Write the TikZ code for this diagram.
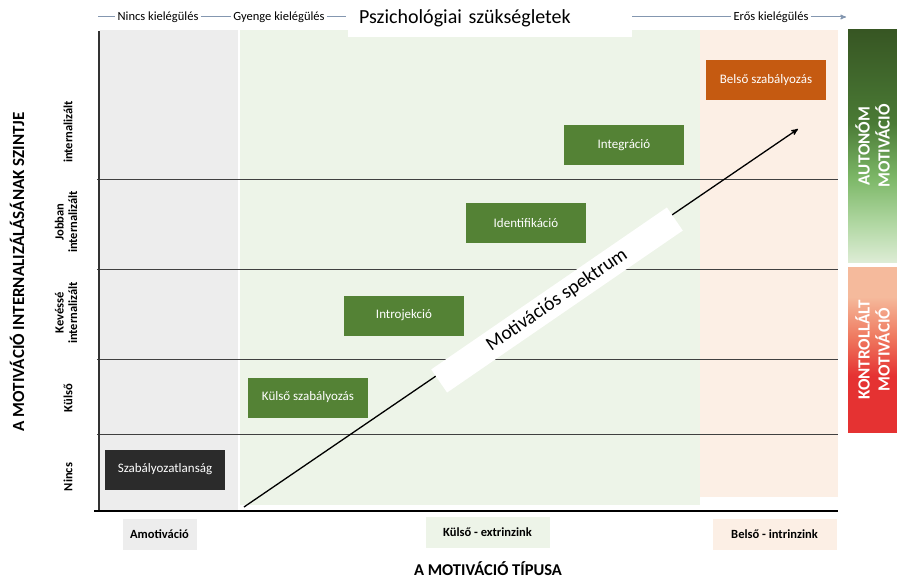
\documentclass[tikz,border=0pt]{standalone}
\usepackage{fontspec}
\setmainfont{Carlito}
\usetikzlibrary{arrows,positioning}
\definecolor{grpanel}{HTML}{EDEDED}
\definecolor{grnpanel}{HTML}{EDF4E8}
\definecolor{pchpanel}{HTML}{FCEFE5}
\definecolor{stagegreen}{HTML}{548235}
\definecolor{orangebox}{HTML}{C55A11}
\definecolor{darkbox}{HTML}{2B2B2B}
\definecolor{needblue}{HTML}{8497B0}
\definecolor{autdark}{HTML}{375623}
\definecolor{autdeep}{HTML}{4A7A35}
\definecolor{autmid}{HTML}{7DB868}
\definecolor{autpale}{HTML}{B2D8A4}
\definecolor{autlight}{HTML}{DDECD5}
\definecolor{ktrtop}{HTML}{F5BA9C}
\definecolor{ktrmid}{HTML}{EF7A60}
\definecolor{ktrbot}{HTML}{E53232}
\pgfdeclareverticalshading{autshade}{100bp}{color(0bp)=(autlight); color(25bp)=(autlight);
  color(33bp)=(autpale); color(43bp)=(autmid); color(55bp)=(autdeep); color(75bp)=(autdark); color(100bp)=(autdark)}
\pgfdeclareverticalshading{ktrshade}{100bp}{color(0bp)=(ktrbot); color(25bp)=(ktrbot);
  color(42bp)=(ktrbot); color(54bp)=(ktrmid); color(66bp)=(ktrtop); color(100bp)=(ktrtop)}

\begin{document}
\begin{tikzpicture}[x=1pt,y=-1pt,>=stealth',
  stage/.style={rectangle,fill=stagegreen,text=white,minimum width=120pt,minimum height=40pt,font=\fontsize{13}{15}\selectfont},
  need/.style={font=\fontsize{12.5}{14}\selectfont,inner sep=2pt},
  needline/.style={draw=needblue,line width=1pt},
  level/.style={rotate=90,align=center,font=\bfseries\fontsize{12.5}{13.5}\selectfont},
  levelline/.style={draw=black!75,line width=0.8pt},
  kind/.style={font=\bfseries\fontsize{12.5}{14}\selectfont,minimum height=31pt},
  bar/.style={minimum width=49pt},
  bartext/.style={rotate=90,text=white,align=center,font=\bfseries\fontsize{17}{20}\selectfont}]
  \useasboundingbox (0,0) rectangle (897,578);

  % background panels
  \fill[grpanel] (100,30) rectangle (238,510);
  \fill[grnpanel] (240,30) rectangle (700,505);
  \fill[pchpanel] (700,30) rectangle (838,497);

  % top: psychological needs
  \node[fill=white,minimum width=284pt,minimum height=37pt,text width=262pt,align=left,
    font=\fontsize{20}{24}\selectfont] (tit) at (490,18.5) {Pszichológiai szükségletek};
  \node[need] (nincs) at (158,17) {Nincs kielégülés};
  \node[need] (gyenge) at (279,17) {Gyenge kielégülés};
  \node[need] (eros) at (771,17) {Erős kielégülés};
  \coordinate (n0) at (98,17); \coordinate (n1) at (346,17);
  \coordinate (n2) at (632,17); \coordinate (n3) at (846,17);
  \draw[needline] (n0) -- (nincs); \draw[needline] (nincs) -- (gyenge);
  \draw[needline] (gyenge) -- (n1); \draw[needline] (n2) -- (eros);
  \draw[needline,->] (eros) -- (n3);

  % level lines and axes
  \foreach \y in {179,269,359,434}
    \draw[levelline] (97,\y) -- (838,\y);
  \draw[line width=1.8pt,black!80] (99,31) -- (99,511);
  \draw[line width=2.5pt] (94,511) -- (838,511);

  % spectrum arrow
  \coordinate (spstart) at (244,507); \coordinate (spend) at (798,129);
  \draw[->,line width=1.3pt] (spstart) -- (spend);
  \node[fill=white,rotate=34.5,minimum width=286pt,minimum height=28pt,
    font=\fontsize{19.5}{23}\selectfont] (spektr) at (557,300) {Motivációs spektrum};

  % regulation types
  \node[stage,fill=darkbox] (szab) at (165,469.5) {Szabályozatlanság};
  \node[stage] (kulsoszab) at (308,397.5) {Külső szabályozás};
  \node[stage] (introj) at (404,315.5) {Introjekció};
  \node[stage] (ident) at (526,223) {Identifikáció};
  \node[stage] (integr) at (624,145) {Integráció};
  \node[stage,fill=orangebox] (belsoszab) at (766,80) {Belső szabályozás};

  % right bars
  \node[bar,minimum height=232pt,shading=autshade] (autonbar) at (872.5,146) {};
  \node[bartext] (auton) at (autonbar) {AUTONÓM\\MOTIVÁCIÓ};
  \node[bar,minimum height=165pt,shading=ktrshade] (kontrbar) at (872.5,349.5) {};
  \node[bartext] (kontr) at (kontrbar) {KONTROLLÁLT\\MOTIVÁCIÓ};

  % vertical axis labels
  \node[rotate=90,font=\bfseries\fontsize{17}{18}\selectfont] (yaxis) at (17,272)
    {A MOTIVÁCIÓ INTERNALIZÁLÁSÁNAK SZINTJE};
  \node[level] (lv5) at (68,132) {internalizált};
  \node[level] (lv4) at (66,222) {Jobban\\internalizált};
  \node[level] (lv3) at (66,313) {Kevéssé\\internalizált};
  \node[level] (lv2) at (68,398) {Külső};
  \node[level] (lv1) at (68,477) {Nincs};

  % motivation types
  \node[kind,fill=grpanel,minimum width=74pt] (amotiv) at (159.5,534) {Amotiváció};
  \node[kind,fill=grnpanel,minimum width=124pt] (extr) at (487.5,532) {Külső - extrinzink};
  \node[kind,fill=pchpanel,minimum width=124pt] (intr) at (774.5,534.5) {Belső - intrinzink};
  \node[inner sep=1pt,font=\bfseries\fontsize{16.5}{18}\selectfont] (xaxis) at (488,569) {A MOTIVÁCIÓ TÍPUSA};
\end{tikzpicture}
\end{document}
